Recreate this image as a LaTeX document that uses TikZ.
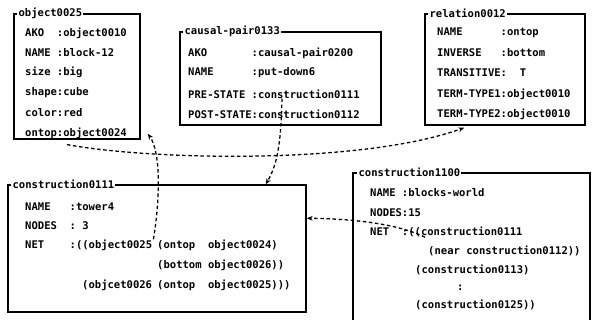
\documentclass[tikz,border=0pt]{standalone}
\usepackage{fontspec}
\setmonofont{DejaVu Sans Mono}
\usetikzlibrary{calc,fit,positioning,arrows.meta}

\tikzset{
  frame/.style={draw, line width=1.3pt, inner sep=0pt},
  head/.style={anchor=west, fill=white, inner sep=1pt, font=\ttfamily\bfseries\fontsize{9}{10}\selectfont},
  row/.style={anchor=west, inner sep=0pt, font=\ttfamily\bfseries\fontsize{9}{10}\selectfont},
  link/.style={line width=1.1pt, dash pattern=on 3pt off 2.2pt, -{Stealth[length=5pt,width=4pt]}}
}

\begin{document}
\begin{tikzpicture}[x=0.3mm,y=0.3mm]
\useasboundingbox (0,0) rectangle (593,320);

% object0025
\node[frame, fit={(14,306) (140,181)}] (obj25) {};
\node[head] at ($(obj25.north west)+(4,0)$) {object0025};
\node[row] at (25,287) {AKO~~:object0010};
\node[row] at (25,267) {NAME~:block-12};
\node[row] at (25,248) {size~:big};
\node[row] at (25,227) {shape:cube};
\node[row] at (25,207) {color:red};
\node[row] (ontop) at (25,187) {ontop:object0024};

% causal-pair0133
\node[frame, fit={(180,288) (381,195)}] (pair133) {};
\node[head] at ($(pair133.north west)+(4,0)$) {causal-pair0133};
\node[row] at (188,267) {AKO~~~~~~~:causal-pair0200};
\node[row] at (188,247) {NAME~~~~~~:put-down6};
\node[row] (pre) at (188,226) {PRE-STATE~:construction0111};
\node[row] at (188,206) {POST-STATE:construction0112};

% relation0012
\node[frame, fit={(425,306) (585,195)}] (rel12) {};
\node[head] at ($(rel12.north west)+(4,0)$) {relation0012};
\node[row] at (437,287) {NAME~~~~~~:ontop};
\node[row] at (437,267) {INVERSE~~~:bottom};
\node[row] at (437,247) {TRANSITIVE:~~T};
\node[row] at (437,226) {TERM-TYPE1:object0010};
\node[row] at (437,206) {TERM-TYPE2:object0010};

% construction0111
\node[frame, fit={(8,135) (306,8)}] (con111) {};
\node[head] at ($(con111.north west)+(4,0)$) {construction0111};
\node[row] at (25,113) {NAME~~~:tower4};
\node[row] at (25,94) {NODES~~:~3};
\node[row] (net4) at (25,75) {NET~~~~:((object0025};
\node[row] at (157,75) {(ontop~~object0024)};
\node[row] at (157,55) {(bottom~object0026))};
\node[row] at (82,35) {(objcet0026};
\node[row] at (157,35) {(ontop~~object0025)))};

% construction1100
\node[frame, fit={(353,147) (590,-4)}] (con1100) {};
\node[head] at ($(con1100.north west)+(5,0)$) {construction1100};
\node[row] at (370,127) {NAME~:blocks-world};
\node[row] at (370,107) {NODES:15};
\node[row] (net5) at (370,88) {NET~~:((construction0111};
\node[row] at (428,69) {(near~construction0112))};
\node[row] at (415,50) {(construction0113)};
\node[row] at (457,32) {:};
\node[row] at (415,15) {(construction0125))};

% references between frames
\draw[link] ($(net4.north east)+(1,0)$) .. controls (160,120) and (161,168) .. ($(obj25.south east)+(7,6)$);
\draw[link] ($(pre.south west)+(94,0)$) .. controls (281,175) and (277,155) .. ($(con111.north east)+(-41,0)$);
\draw[link] ($(ontop.south west)+(42,-6)$) .. controls (150,160) and (360,155) .. ($(rel12.south west)+(40,-2)$);
\draw[link] ($(net5.south west)+(55,0)$) .. controls (400,95) and (360,101) .. ($(con111.north east)+(0,-34)$);
\end{tikzpicture}
\end{document}
